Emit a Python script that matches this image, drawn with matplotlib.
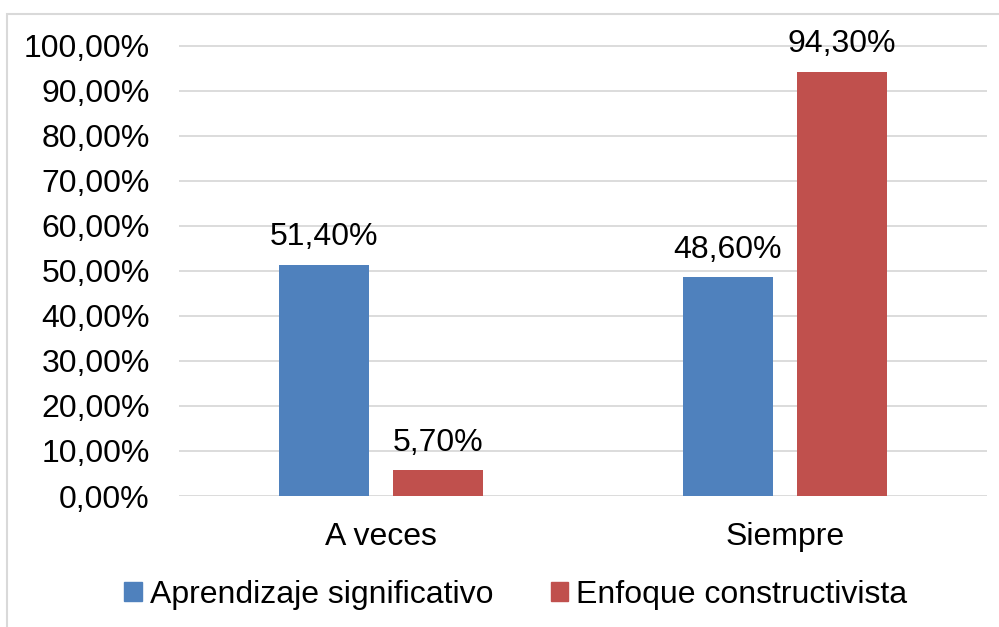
import matplotlib.pyplot as plt
from matplotlib.patches import Rectangle, Patch
import numpy as np

categories = ["A veces", "Siempre"]
series_names = ["Aprendizaje significativo", "Enfoque constructivista"]
aprendizaje = [51.4, 48.6]
enfoque = [5.7, 94.3]
y_ticks = [0, 10, 20, 30, 40, 50, 60, 70, 80, 90, 100]

blue = "#4F81BD"
red = "#C0504D"
grid_color = "#D9D9D9"

plt.rcParams['font.family'] = ['Liberation Sans', 'DejaVu Sans']
fs = 23

def fmt(v):
    # formato con coma decimal
    return f"{v:.2f}".replace(".", ",") + "%"

fig = plt.figure(figsize=(9.99, 6.27), dpi=100)
ax = fig.add_axes([179 / 999, 1 - 496 / 627, 808 / 999, 451.5 / 627])

x = np.arange(len(categories))
w = 90 / 404
off = 57 / 404
b1 = ax.bar(x - off, aprendizaje, w, color=blue, zorder=3)
b2 = ax.bar(x + off, enfoque, w, color=red, zorder=3)

for bars, vals in [(b1, aprendizaje), (b2, enfoque)]:
    for r, v in zip(bars, vals):
        ax.annotate(fmt(v), (r.get_x() + r.get_width() / 2, v), xytext=(0, 9),
                    textcoords="offset points", ha="center", va="bottom", fontsize=fs)

ax.set_xlim(-0.5, 1.5)
ax.set_ylim(0, 100.3)
ax.set_yticks(y_ticks)
ax.set_yticklabels([fmt(t) for t in y_ticks], fontsize=fs)
ax.set_xticks(x)
ax.set_xticklabels(categories, fontsize=fs)
ax.tick_params(axis="y", length=0, pad=21)
ax.tick_params(axis="x", length=0, pad=19)
ax.yaxis.grid(True, color=grid_color, linewidth=1.3, zorder=0)
for s in ax.spines.values():
    s.set_visible(False)

handles = [Patch(color=blue), Patch(color=red)]
fig.legend(handles, series_names, loc="center", bbox_to_anchor=(0.5165, 1 - 595 / 627),
           ncol=2, frameon=False, fontsize=fs, handlelength=0.55, handleheight=0.55,
           handletextpad=0.25, columnspacing=1.8)

fig.patches.append(Rectangle((7 / 999, -0.1), 2, 1 - 14 / 627 + 0.1, transform=fig.transFigure,
                             fill=False, edgecolor=grid_color, linewidth=1.5))

fig.savefig("out.png", dpi=100)
